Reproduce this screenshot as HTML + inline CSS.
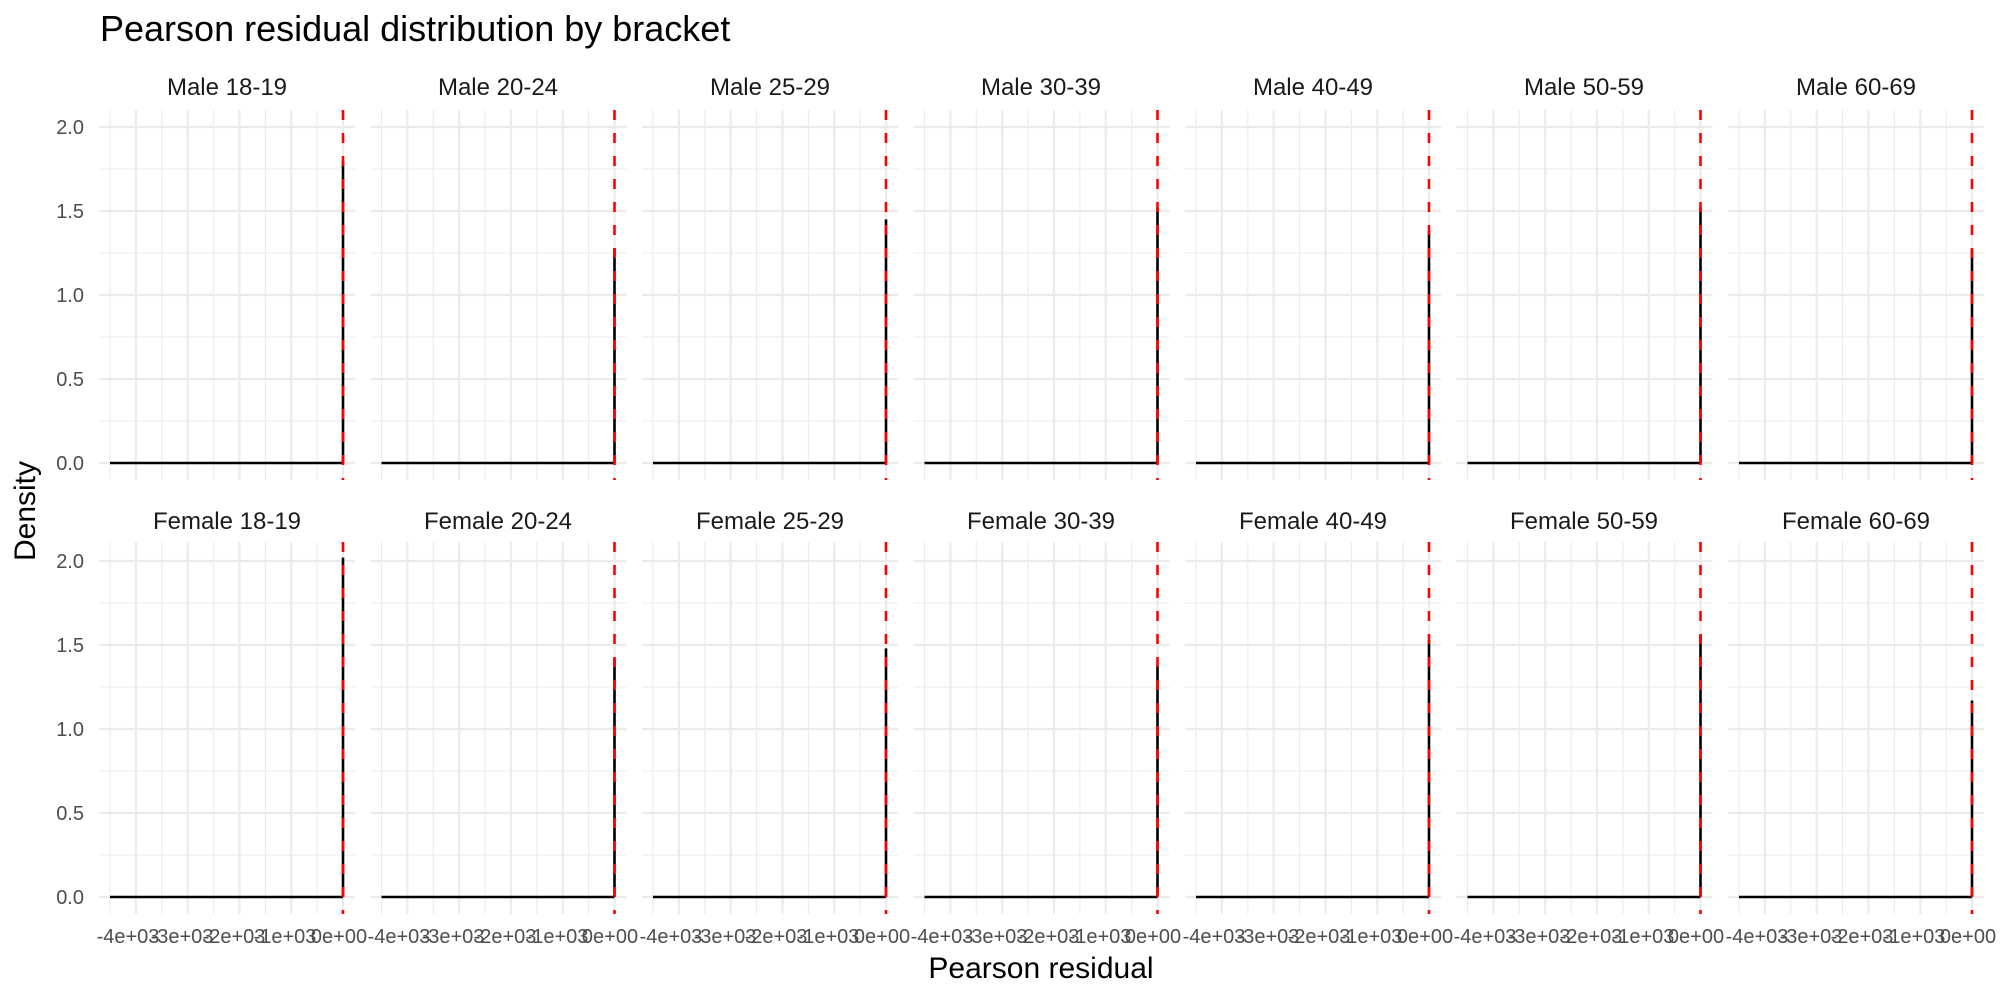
<!DOCTYPE html>
<html><head><meta charset="utf-8"><style>
html,body{margin:0;padding:0;background:#fff;}
svg text{font-family:"Liberation Sans",Arial,sans-serif;}
.s{font-size:24px;fill:#1a1a1a;text-anchor:middle;}
.y{font-size:20px;fill:#4d4d4d;text-anchor:end;}
</style></head><body>
<svg id="c" width="2000" height="1000" xmlns="http://www.w3.org/2000/svg" style="position:absolute;left:0;top:0">
<g id="g"></g>
<text x="100" y="41" font-size="36" fill="#000">Pearson residual distribution by bracket</text>
<text x="1041" y="978" font-size="30" fill="#000" text-anchor="middle">Pearson residual</text>
<text transform="translate(35,511) rotate(-90)" font-size="30" fill="#000" text-anchor="middle">Density</text>
<text class="s" x="227" y="95">Male 18-19</text>
<text class="s" x="498" y="95">Male 20-24</text>
<text class="s" x="770" y="95">Male 25-29</text>
<text class="s" x="1041" y="95">Male 30-39</text>
<text class="s" x="1313" y="95">Male 40-49</text>
<text class="s" x="1584" y="95">Male 50-59</text>
<text class="s" x="1856" y="95">Male 60-69</text>
<text class="s" x="227" y="529">Female 18-19</text>
<text class="s" x="498" y="529">Female 20-24</text>
<text class="s" x="770" y="529">Female 25-29</text>
<text class="s" x="1041" y="529">Female 30-39</text>
<text class="s" x="1313" y="529">Female 40-49</text>
<text class="s" x="1584" y="529">Female 50-59</text>
<text class="s" x="1856" y="529">Female 60-69</text>
<text class="y" x="84" y="134">2.0</text>
<text class="y" x="84" y="218">1.5</text>
<text class="y" x="84" y="302">1.0</text>
<text class="y" x="84" y="386">0.5</text>
<text class="y" x="84" y="470">0.0</text>
<text class="y" x="84" y="568">2.0</text>
<text class="y" x="84" y="652">1.5</text>
<text class="y" x="84" y="736">1.0</text>
<text class="y" x="84" y="820">0.5</text>
<text class="y" x="84" y="904">0.0</text>
<g font-family="Liberation Sans, Arial, sans-serif" font-size="20" fill="#4d4d4d" text-anchor="middle">
<text x="128" y="943">-4e+03</text><text x="182" y="943">-3e+03</text><text x="234" y="943">-2e+03</text><text x="285" y="943">-1e+03</text><text x="339" y="943">0e+00</text>
<text x="399" y="943">-4e+03</text><text x="453" y="943">-3e+03</text><text x="505" y="943">-2e+03</text><text x="557" y="943">-1e+03</text><text x="610" y="943">0e+00</text>
<text x="671" y="943">-4e+03</text><text x="725" y="943">-3e+03</text><text x="776" y="943">-2e+03</text><text x="828" y="943">-1e+03</text><text x="882" y="943">0e+00</text>
<text x="942" y="943">-4e+03</text><text x="996" y="943">-3e+03</text><text x="1048" y="943">-2e+03</text><text x="1100" y="943">-1e+03</text><text x="1153" y="943">0e+00</text>
<text x="1214" y="943">-4e+03</text><text x="1268" y="943">-3e+03</text><text x="1319" y="943">-2e+03</text><text x="1371" y="943">-1e+03</text><text x="1425" y="943">0e+00</text>
<text x="1485" y="943">-4e+03</text><text x="1539" y="943">-3e+03</text><text x="1591" y="943">-2e+03</text><text x="1643" y="943">-1e+03</text><text x="1696" y="943">0e+00</text>
<text x="1757" y="943">-4e+03</text><text x="1811" y="943">-3e+03</text><text x="1862" y="943">-2e+03</text><text x="1914" y="943">-1e+03</text><text x="1968" y="943">0e+00</text>
</g>
</svg>
<script>
(function(){
var ns="http://www.w3.org/2000/svg",g=document.getElementById('g');
function L(x1,y1,x2,y2,c,w,d){var e=document.createElementNS(ns,'line');e.setAttribute('x1',x1);e.setAttribute('y1',y1);e.setAttribute('x2',x2);e.setAttribute('y2',y2);e.setAttribute('stroke',c);e.setAttribute('stroke-width',w);if(d)e.setAttribute('stroke-dasharray',d);g.appendChild(e);}
var vals=[[1.8,1.28,1.45,1.52,1.38,1.52,1.27],[2.02,1.42,1.48,1.38,1.53,1.56,1.17]];
var rows=[{t:110,b:480,z:463},{t:542,b:914,z:897}];
for(var r=0;r<2;r++){var R=rows[r];
for(var i=0;i<7;i++){var P=99+271.5*i;
 for(var k=0;k<9;k++){var yy=R.z-42*k;L(P,yy,P+256,yy,'#ebebeb',k%2==0?2.2:1.1);}
 for(var k=0;k<10;k++){var xx=P+11+25.9*k;L(xx,R.t,xx,R.b,'#ebebeb',k%2==1?2.2:1.1);}
 var rx=P+244,v=vals[r][i];
 L(P+11,R.z,rx,R.z,'#000',2.6);
 L(rx,R.z,rx,R.z-168*v,'#000',2.6);
 L(rx,R.t,rx,R.b,'#ff0000',2.6,'10,13');
}}
})();
</script>
</body></html>
